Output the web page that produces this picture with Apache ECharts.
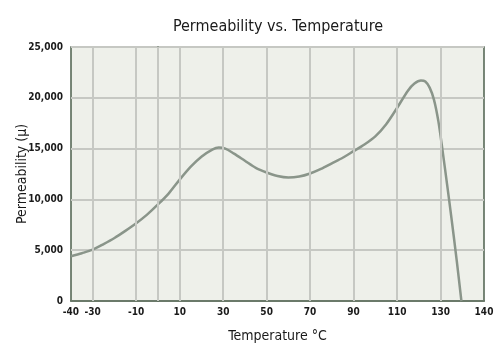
<!DOCTYPE html>
<html>
<head>
<meta charset="utf-8">
<script src="https://cdn.jsdelivr.net/npm/echarts@6/dist/echarts.min.js"></script>
<style>html,body{margin:0;padding:0;background:#fff;}#c{width:500px;height:351px;}</style>
</head>
<body>
<div id="c"></div>
<script>
var titleText = 'Permeability vs. Temperature';
var xName = 'Temperature \u00B0C';
var yName = 'Permeability (\u03BC)';

var temps = [-40,-35,-30,-25,-20,-15,-10,-5,0,5,10,15,20,25,28,31,35,40,45,50,55,60,65,70,75,80,85,90,95,100,105,110,115,118,121,123,125,127,129,131,133,135,137.5,139.6];
var perm  = [4400,4700,5050,5600,6200,6900,7650,8500,9500,10600,11950,13200,14200,14900,15100,15000,14500,13800,13100,12650,12300,12150,12250,12550,13000,13550,14100,14750,15400,16200,17400,19000,20700,21400,21700,21600,21000,19800,17700,14700,11500,8200,3900,0];

var xGridValues = [-30,-10,0,10,30,50,70,90,110,130];
var xLabelValues = [-40,-30,-10,10,30,50,70,90,110,130,150];
var xLabelTexts  = ['-40','-30','-10','10','30','50','70','90','110','130','140'];
var yTicks = [0,5000,10000,15000,20000,25000];
var yTickTexts = ['0','5,000','10,000','15,000','20,000','25,000'];

var FONT = '"Liberation Sans Narrow","DejaVu Sans Condensed","Roboto Condensed",sans-serif';
var chart = echarts.init(document.getElementById('c'), null, {renderer:'canvas'});
var seriesData = temps.map(function(t,i){return [t, perm[i]];});

chart.setOption({
  animation:false,
  backgroundColor:'#ffffff',
  title:{
    text:titleText, left:273, top:14, textAlign:'center',
    textStyle:{fontFamily:FONT, fontSize:16, fontWeight:'normal', color:'#1a1a1a'}
  },
  grid:{
    left:71, right:16, top:47, bottom:50, containLabel:false, outerBoundsMode:'none',
    show:true, backgroundColor:'#eef0ea', borderColor:'#4e604e', borderWidth:1.5
  },
  xAxis:{
    type:'value', min:-40, max:150, interval:10,
    name:xName, nameLocation:'middle', nameGap:28, nameMoveOverlap:false,
    nameTextStyle:{fontFamily:FONT, fontSize:14, color:'#1a1a1a'},
    axisLine:{show:true, lineStyle:{color:'#4e604e', width:1.5}},
    axisTick:{show:false},
    splitLine:{show:false},
    axisLabel:{
      margin:6, fontFamily:FONT, fontSize:10, fontWeight:'bold', color:'#1a1a1a',
      formatter:function(v){var i=xLabelValues.indexOf(v);return i>=0?xLabelTexts[i]:'';}
    }
  },
  yAxis:{
    type:'value', min:0, max:25000, interval:5000,
    name:yName, nameLocation:'middle', nameGap:42, nameMoveOverlap:false,
    nameTextStyle:{fontFamily:FONT, fontSize:14, color:'#1a1a1a'},
    axisLine:{show:true, lineStyle:{color:'#4e604e', width:1.5}},
    axisTick:{show:false},
    splitLine:{show:true, lineStyle:{color:'#c6c8c3', width:2}},
    axisLabel:{
      margin:8, fontFamily:FONT, fontSize:10, fontWeight:'bold', color:'#1a1a1a',
      formatter:function(v){var i=yTicks.indexOf(v);return i>=0?yTickTexts[i]:'';}
    }
  },
  series:[{
    type:'line', data:seriesData, smooth:0.3, showSymbol:false,
    lineStyle:{color:'#8a958a', width:2.5},
    markLine:{
      silent:true, symbol:['none','none'], animation:false,
      label:{show:false},
      lineStyle:{color:'#c6c8c3', width:2, type:'solid'},
      data:xGridValues.map(function(v){return {xAxis:v};})
    },
    z:3
  }]
});
</script>
</body>
</html>
